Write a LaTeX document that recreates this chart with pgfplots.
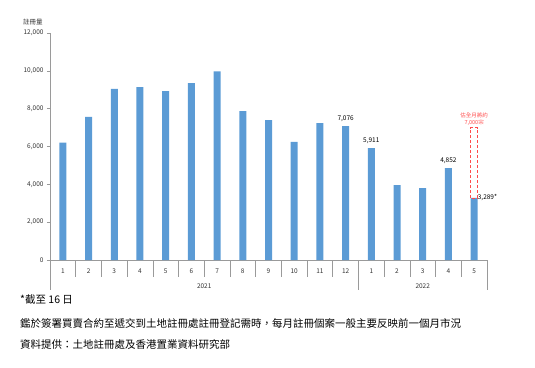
\documentclass[border=0pt]{standalone}
\usepackage{pgfplots}
\pgfplotsset{compat=1.18}
\usepackage{fontspec}
\setmainfont{Noto Sans CJK TC}
\definecolor{barblue}{HTML}{5B9BD5}
\definecolor{axgray}{HTML}{9A9A9A}
\definecolor{noteRed}{HTML}{FF4B4B}
\begin{document}
\begin{tikzpicture}
\useasboundingbox (-50pt,-107pt) rectangle (485pt,260pt);
\begin{axis}[
  at={(0pt,0pt)}, anchor=south west,
  scale only axis, width=437pt, height=227pt,
  xmin=0.5, xmax=17.5, ymin=0, ymax=12000,
  axis x line=bottom, axis y line=left,
  axis line style={-, axgray, line width=0.6pt},
  ytick={0,2000,4000,6000,8000,10000,12000},
  yticklabel style={font=\fontsize{6.5}{7}\selectfont, text=black!80},
  /pgf/number format/assume math mode=true,
  /pgf/number format/1000 sep={,},
  scaled y ticks=false,
  ytick style={axgray, line width=0.6pt}, tick align=outside, major tick length=3pt,
  xtick={1,...,17},
  xticklabels={1,2,3,4,5,6,7,8,9,10,11,12,1,2,3,4,5},
  xticklabel style={font=\fontsize{6.5}{7}\selectfont, text=black!80, yshift=-2pt},
  x tick style={draw=none},
  clip=false,
]
\addplot[ybar, bar width=7pt, fill=barblue, draw=none] coordinates {
 (1,6200) (2,7560) (3,9040) (4,9140) (5,8930) (6,9350) (7,9970) (8,7870) (9,7400)
 (10,6240) (11,7240) (12,7076) (13,5911) (14,3960) (15,3800) (16,4852) (17,3289)};
\addplot[ybar, bar width=7pt, fill=none, draw=none,
  nodes near coords={\pgfmathprintnumber[1000 sep={,}]{\pgfplotspointmeta}},
  nodes near coords style={font=\fontsize{6.5}{7}\selectfont, text=black, yshift=1pt}]
  coordinates {(12,7076) (13,5911) (16,4852)};
\node[anchor=west, font=\fontsize{6.5}{7}\selectfont, inner sep=1pt] at (axis cs:17,3289) {\hspace{2.5pt}3,289*};
\draw[noteRed, densely dashed, line width=0.5pt] ([xshift=-3.5pt]axis cs:17,3289) rectangle ([xshift=3.5pt]axis cs:17,7000);
\node[anchor=south, align=center, text=noteRed, font=\fontsize{5.5}{6.5}\selectfont, inner sep=0pt, yshift=2pt] at (axis cs:17,7000) {估全月將約\\7,000宗};
\pgfplotsinvokeforeach{1.5,2.5,3.5,4.5,5.5,6.5,7.5,8.5,9.5,10.5,11.5,13.5,14.5,15.5,16.5}{
  \draw[axgray, line width=0.6pt] (axis cs:#1,0) -- ++(0pt,-17pt);
}
\draw[axgray, line width=0.6pt] (axis cs:0.5,0) -- ++(0pt,-30pt);
\draw[axgray, line width=0.6pt] (axis cs:12.5,0) -- ++(0pt,-30pt);
\draw[axgray, line width=0.6pt] (axis cs:17.5,0) -- ++(0pt,-30pt);
\node[font=\fontsize{6.5}{7}\selectfont, text=black!80] at ([yshift=-26pt]axis cs:6.5,0) {2021};
\node[font=\fontsize{6.5}{7}\selectfont, text=black!80] at ([yshift=-26pt]axis cs:15,0) {2022};
\end{axis}
\node[font=\fontsize{6.5}{7}\selectfont, text=black!80] at (-17pt,238pt) {註冊量};
\node[anchor=west, font=\fontsize{10.5}{12}\selectfont, inner sep=0pt] at (-30pt,-40pt) {*截至 16 日};
\node[anchor=west, font=\fontsize{10.5}{12}\selectfont, inner sep=0pt] at (-30pt,-63pt) {鑑於簽署買賣合約至遞交到土地註冊處註冊登記需時，每月註冊個案一般主要反映前一個月市況};
\node[anchor=west, font=\fontsize{10.5}{12}\selectfont, inner sep=0pt] at (-30pt,-85pt) {資料提供：土地註冊處及香港置業資料研究部};
\end{tikzpicture}
\end{document}
